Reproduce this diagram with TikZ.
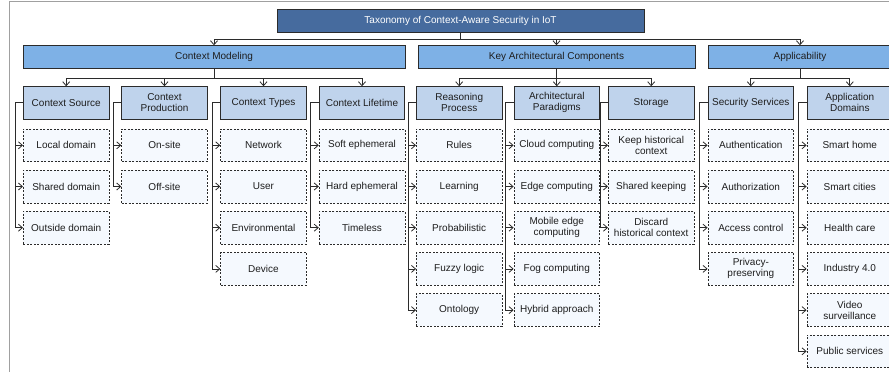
\documentclass[tikz,border=0pt]{standalone}
\usepackage{fontspec}
\setmainfont{Liberation Sans}
\usetikzlibrary{arrows.meta}

\definecolor{titlefill}{HTML}{466B9E}
\definecolor{groupfill}{HTML}{7EB1E6}
\definecolor{catfill}{HTML}{BFD3EC}
\definecolor{leaffill}{HTML}{F5F9FE}
\definecolor{edgedark}{HTML}{2B2B2B}
\definecolor{textdark}{HTML}{1E1E1E}
\definecolor{framegray}{HTML}{A0A0A0}

\begin{document}
\begin{tikzpicture}[x=1pt,y=-1pt,
  every node/.style={font=\fontsize{10}{11}\selectfont, align=center, inner sep=0pt, text=textdark},
  titlebox/.style={draw=edgedark, line width=0.8pt, fill=titlefill, text=white,
    minimum width=367pt, minimum height=23pt},
  groupbox/.style={draw=edgedark, line width=0.8pt, fill=groupfill, minimum height=22.6pt},
  catbox/.style={draw=edgedark, line width=0.8pt, fill=catfill,
    minimum width=85.7pt, minimum height=32.3pt},
  leafbox/.style={draw=edgedark, line width=0.7pt, dash pattern=on 2pt off 1.5pt, fill=leaffill,
    minimum width=85.7pt, minimum height=32.7pt},
  link/.style={draw=edgedark, line width=0.8pt, -{Straight Barb[length=4pt,width=7pt]}},
]
\useasboundingbox (0,0) rectangle (889,372);
\clip (0,0) rectangle (889,372);

% outer frame
\draw[framegray, line width=0.8pt] (9,380) -- (9,1) -- (900,1);

% root
\node[titlebox] (root) at (460.5,20.5) {Taxonomy of Context-Aware Security in IoT};

% first level
\node[groupbox, minimum width=382pt] (cm) at (214,57) {Context Modeling};
\node[groupbox, minimum width=277pt] (kac) at (556.5,57) {Key Architectural Components};
\node[groupbox, minimum width=184pt] (app) at (800,57) {Applicability};

\foreach \g in {cm,kac,app}
  \draw[link] (root.south) -- ++(0,6.5) -| (\g.north);

% second level
\node[catbox] (cs) at (66.2,102.85) {Context Source};
\node[catbox] (cp) at (164.5,102.85) {Context\\Production};
\node[catbox] (ct) at (263.5,102.85) {Context Types};
\node[catbox] (cl) at (362,102.85) {Context Lifetime};
\node[catbox] (rp) at (459.2,102.85) {Reasoning\\Process};
\node[catbox] (ap) at (556.8,102.85) {Architectural\\Paradigms};
\node[catbox] (st) at (651.2,102.85) {Storage};
\node[catbox] (ss) at (750.8,102.85) {Security Services};
\node[catbox] (ad) at (849.8,102.85) {Application\\Domains};

\foreach \c in {cs,cp,ct,cl}
  \draw[link] (cm.south) -- ++(0,9.2) -| (\c.north);
\foreach \c in {rp,ap,st}
  \draw[link] (kac.south) -- ++(0,9.2) -| (\c.north);
\foreach \c in {ss,ad}
  \draw[link] (app.south) -- ++(0,9.2) -| (\c.north);

% third level
\node[leafbox] (cs1) at (66.2,145.3) {Local domain};
\node[leafbox] (cs2) at (66.2,186.5) {Shared domain};
\node[leafbox] (cs3) at (66.2,227.7) {Outside domain};

\node[leafbox] (cp1) at (164.5,145.3) {On-site};
\node[leafbox] (cp2) at (164.5,186.5) {Off-site};

\node[leafbox] (ct1) at (263.5,145.3) {Network};
\node[leafbox] (ct2) at (263.5,186.5) {User};
\node[leafbox] (ct3) at (263.5,227.7) {Environmental};
\node[leafbox] (ct4) at (263.5,268.9) {Device};

\node[leafbox] (cl1) at (362,145.3) {Soft ephemeral};
\node[leafbox] (cl2) at (362,186.5) {Hard ephemeral};
\node[leafbox] (cl3) at (362,227.7) {Timeless};

\node[leafbox] (rp1) at (459.2,145.3) {Rules};
\node[leafbox] (rp2) at (459.2,186.5) {Learning};
\node[leafbox] (rp3) at (459.2,227.7) {Probabilistic};
\node[leafbox] (rp4) at (459.2,268.9) {Fuzzy logic};
\node[leafbox] (rp5) at (459.2,310.1) {Ontology};

\node[leafbox] (ap1) at (556.8,145.3) {Cloud computing};
\node[leafbox] (ap2) at (556.8,186.5) {Edge computing};
\node[leafbox] (ap3) at (556.8,227.7) {Mobile edge\\computing};
\node[leafbox] (ap4) at (556.8,268.9) {Fog computing};
\node[leafbox] (ap5) at (556.8,310.1) {Hybrid approach};

\node[leafbox] (st1) at (651.2,145.3) {Keep historical\\context};
\node[leafbox] (st2) at (651.2,186.5) {Shared keeping};
\node[leafbox] (st3) at (651.2,227.7) {Discard\\historical context};

\node[leafbox] (ss1) at (750.8,145.3) {Authentication};
\node[leafbox] (ss2) at (750.8,186.5) {Authorization};
\node[leafbox] (ss3) at (750.8,227.7) {Access control};
\node[leafbox] (ss4) at (750.8,268.9) {Privacy-\\preserving};

\node[leafbox] (ad1) at (849.8,145.3) {Smart home};
\node[leafbox] (ad2) at (849.8,186.5) {Smart cities};
\node[leafbox] (ad3) at (849.8,227.7) {Health care};
\node[leafbox] (ad4) at (849.8,268.9) {Industry 4.0};
\node[leafbox] (ad5) at (849.8,310.1) {Video\\surveillance};
\node[leafbox] (ad6) at (849.8,351.3) {Public services};

% elbow connectors from each category to its items
\foreach \p/\n in {cs/3,cp/2,ct/4,cl/3,rp/5,ap/5,st/3,ss/4,ad/6}
  \foreach \i in {1,...,\n}
    \draw[link] (\p.west) -- ++(-8,0) |- (\p\i.west);

\end{tikzpicture}
\end{document}
